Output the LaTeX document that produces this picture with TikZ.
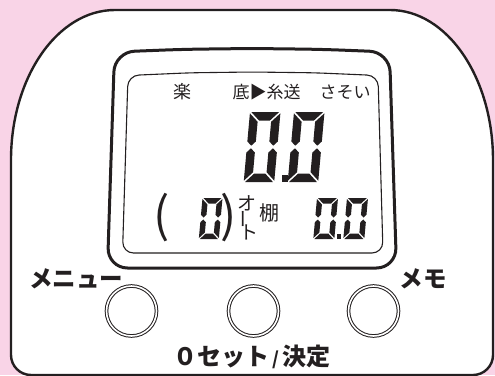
\documentclass[tikz,border=0pt]{standalone}
\usepackage{fontspec}
\newfontfamily\jp{Noto Sans CJK JP}
\definecolor{pinkbg}{RGB}{249,212,231}
\definecolor{ink}{RGB}{35,31,32}
\newcommand{\segzero}[6]{%
\begin{scope}[shift={(#1,#2)},xslant=0.09]
\pgfmathsetmacro\sw{#3}\pgfmathsetmacro\sh{#4}\pgfmathsetmacro\st{#5}\pgfmathsetmacro\sg{#6}%
\pgfmathsetmacro\sm{#4/2}%
\fill[ink] (\sg,0) -- (\sw-\sg,0) -- (\sw-\st-\sg,\st) -- (\st+\sg,\st) -- cycle;
\fill[ink] (\sg,\sh) -- (\sw-\sg,\sh) -- (\sw-\st-\sg,\sh-\st) -- (\st+\sg,\sh-\st) -- cycle;
\fill[ink] (0,\sg) -- (\st,\st+\sg) -- (\st,\sm-\sg-\st/2) -- (\st/2,\sm-\sg) -- (0,\sm-\sg-\st/2) -- cycle;
\fill[ink] (\sw,\sg) -- (\sw-\st,\st+\sg) -- (\sw-\st,\sm-\sg-\st/2) -- (\sw-\st/2,\sm-\sg) -- (\sw,\sm-\sg-\st/2) -- cycle;
\fill[ink] (0,\sh-\sg) -- (\st,\sh-\st-\sg) -- (\st,\sm+\sg+\st/2) -- (\st/2,\sm+\sg) -- (0,\sm+\sg+\st/2) -- cycle;
\fill[ink] (\sw,\sh-\sg) -- (\sw-\st,\sh-\st-\sg) -- (\sw-\st,\sm+\sg+\st/2) -- (\sw-\st/2,\sm+\sg) -- (\sw,\sm+\sg+\st/2) -- cycle;
\end{scope}}
\tikzset{
  shell/.style={draw=ink, line width=2.4pt, fill=white},
  lcdouter/.style={draw=ink, line width=3pt, rounded corners=20pt},
  lcdinner/.style={draw=ink, line width=1.1pt, rounded corners=11pt},
  btn/.style={draw=ink, double=white, double distance=1.6pt, line width=1pt},
  lcdtxt/.style={font=\jp\fontsize{17}{19}\selectfont, text=ink, inner sep=0pt},
  smalltxt/.style={font=\jp\fontsize{19}{20}\selectfont, text=ink, inner sep=0pt},
  paren/.style={font=\jp\fontsize{48}{52}\selectfont, text=ink, inner sep=0pt},
  lbl/.style={font=\jp\bfseries\fontsize{23.5}{26}\selectfont, text=ink, inner sep=0pt},
}
\begin{document}
\begin{tikzpicture}[x=1pt,y=-1pt]
\useasboundingbox (0,0) rectangle (495,375);
\fill[pinkbg] (0,0) rectangle (495,375);
% body
\draw[shell] (115,10) -- (390,10)
  arc[start angle=90,end angle=0,x radius=103pt,y radius=150pt] -- (493,355)
  arc[start angle=0,end angle=-90,radius=20pt] -- (31,375)
  arc[start angle=270,end angle=180,radius=20pt] -- (11,160)
  arc[start angle=180,end angle=90,x radius=104pt,y radius=150pt] -- cycle;
% LCD frames
\draw[lcdouter] (114.5,52) -- (183,49.3) -- (252,48.5) -- (321,49.3) -- (389.5,52) -- (396.5,268) -- (107.5,268) -- cycle;
\draw[lcdinner] (128,75.5) -- (190,72.8) -- (252,72) -- (315,72.8) -- (378,75.5) -- (383,253) -- (122.5,253) -- cycle;
% top row
\node[lcdtxt,font=\jp\fontsize{18}{20}\selectfont] (raku) at (182,92) {楽};
\node[lcdtxt] (soko) at (266.5,92) {底▶糸送};
\node[lcdtxt] (sasoi) at (345,92) {さそい};
% big digits
\segzero{250}{112}{30.5}{70}{8.5}{1.3}
\segzero{294}{112}{30.5}{70}{8.5}{1.3}
\fill[ink] (281.5,175) rectangle (287.5,182);
% lower row
\node[paren] (lp) at (162,218) {(};
\segzero{202.5}{198}{20}{41}{5.5}{1}
\node[paren] (rp) at (229,218) {)};
\node[smalltxt] (o) at (246.5,203.5) {オ};
\node[smalltxt,rotate=90] (bar) at (246.5,219) {ー};
\node[smalltxt] (to) at (249,232.5) {ト};
\node[lcdtxt,font=\jp\fontsize{20}{22}\selectfont] (tana) at (269,212.5) {棚};
\segzero{317}{198}{21}{41}{5.5}{1}
\fill[ink] (336.5,234) rectangle (340.5,239);
\segzero{347}{198}{21}{41}{5.5}{1}
% buttons
\draw[btn] (131.5,311) circle[radius=25pt] node (b1) {};
\draw[btn] (253.5,311) circle[radius=25pt] node (b2) {};
\draw[btn] (373.5,311) circle[radius=25pt] node (b3) {};
% labels
\node[lbl] (menu) at (76,278.5) {メニュー};
\node[lbl] (memo) at (423,278.5) {メモ};
\node[lbl,font=\jp\bfseries\fontsize{24}{26}\selectfont] (zero) at (252,357) {０セット\hspace{3pt}{\fontsize{18}{20}\selectfont/}\hspace{3pt}決定};
\end{tikzpicture}
\end{document}
